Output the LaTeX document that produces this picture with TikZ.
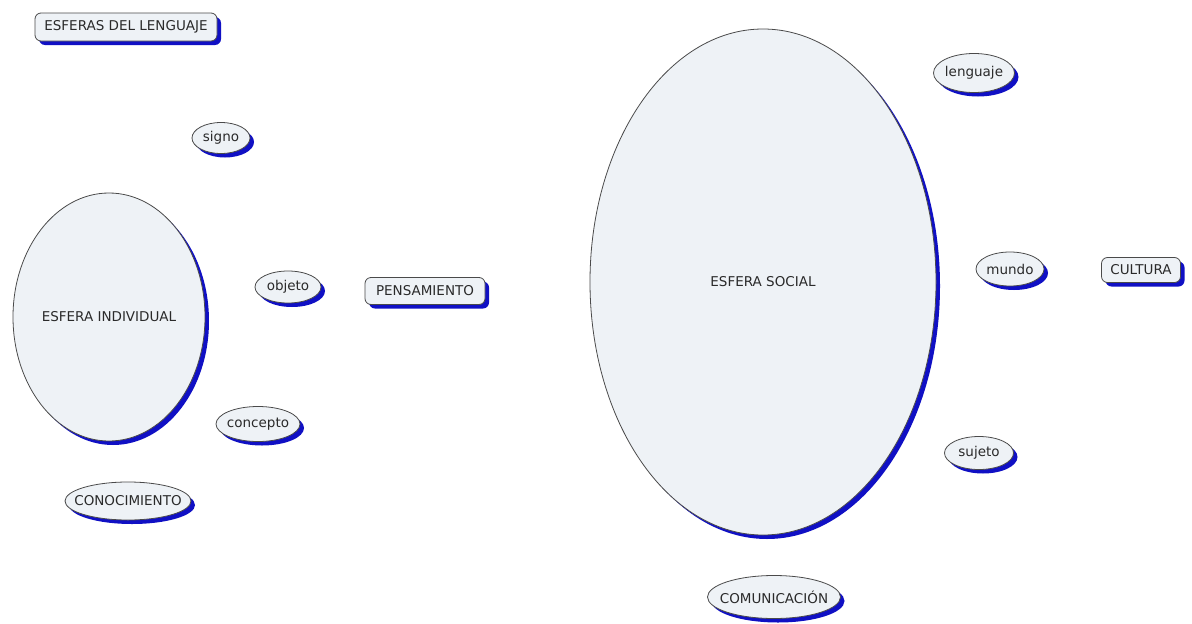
\documentclass[tikz,border=0pt]{standalone}
\usepackage{fontspec}
\setmainfont{DejaVu Sans}
\usetikzlibrary{shapes.geometric,shadows}
\definecolor{nodefill}{HTML}{EEF2F6}
\definecolor{nodeline}{HTML}{4A4A4A}
\definecolor{shadowblue}{HTML}{1010C4}
\definecolor{txt}{HTML}{2A2A2A}
\begin{document}
\begin{tikzpicture}[x=1pt,y=-1pt,
  txtfont/.style={font=\fontsize{13.5}{15}\selectfont, text=txt},
  base/.style={draw=nodeline, line width=0.8pt, fill=nodefill, inner sep=0pt, txtfont,
    drop shadow={shadow xshift=4pt, shadow yshift=-4pt, fill=shadowblue, opacity=1}},
  ell/.style={base, ellipse, label={[txtfont, inner sep=0pt]center:#1}},
  rbox/.style={base, rectangle, rounded corners=6pt}]
\useasboundingbox (0,0) rectangle (1192,624);
\node[rbox, minimum width=182pt, minimum height=28pt] (esferas) at (126,27) {ESFERAS DEL LENGUAJE};
\node[ell=signo, minimum width=58pt, minimum height=31pt] (signo) at (221,138) {};
\node[ell=ESFERA INDIVIDUAL, minimum width=192pt, minimum height=248pt] (indiv) at (109,317) {};
\node[ell=objeto, minimum width=66pt, minimum height=32pt] (objeto) at (288,287) {};
\node[rbox, minimum width=120pt, minimum height=27pt] (pensa) at (425,291) {PENSAMIENTO};
\node[ell=concepto, minimum width=84pt, minimum height=35pt] (concepto) at (258,424) {};
\node[ell=CONOCIMIENTO, minimum width=126pt, minimum height=38pt] (conoc) at (128,501) {};
\node[ell=ESFERA SOCIAL, minimum width=346pt, minimum height=506pt] (social) at (763,282) {};
\node[ell=lenguaje, minimum width=81pt, minimum height=39pt] (lenguaje) at (974,73) {};
\node[ell=mundo, minimum width=68pt, minimum height=34pt] (mundo) at (1010,269) {};
\node[rbox, minimum width=79pt, minimum height=25pt] (cultura) at (1141,270) {CULTURA};
\node[ell=sujeto, minimum width=69pt, minimum height=33pt] (sujeto) at (979,453) {};
\node[ell=COMUNICACIÓN, minimum width=133pt, minimum height=43pt] (comun) at (774,597) {};
\end{tikzpicture}
\end{document}
